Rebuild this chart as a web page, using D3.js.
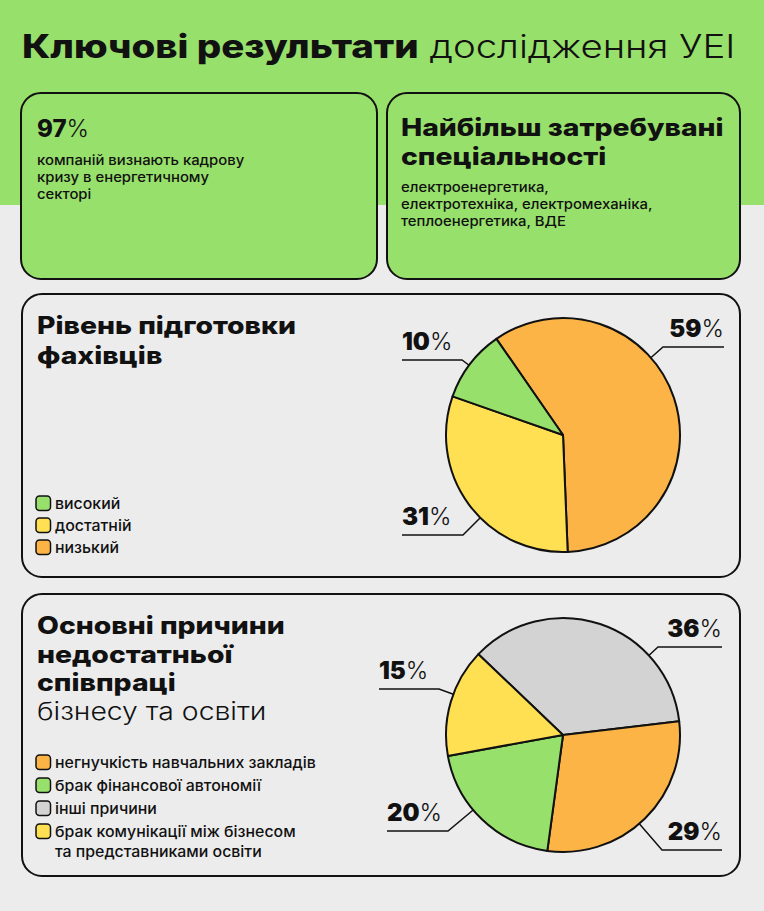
<!DOCTYPE html>
<html>
<head>
<meta charset="utf-8">
<script src="https://cdn.jsdelivr.net/npm/d3@7"></script>
<style>
  html, body { margin: 0; padding: 0; background: #ececec; }
  svg { display: block; font-family: Inter, "Noto Sans", sans-serif; }
</style>
</head>
<body>
<div id="chart"></div>
<script>
// --- data ---
var title = ["Ключові результати", " дослідження УЕІ"];
var crisisValue = "97";
var crisisText = ["компаній визнають кадрову", "кризу в енергетичному", "секторі"];
var specTitle = ["Найбільш затребувані", "спеціальності"];
var specText = ["електроенергетика,", "електротехніка, електромеханіка,", "теплоенергетика, ВДЕ"];

var levelTitle = ["Рівень підготовки", "фахівців"];
var levelNames = ["високий", "достатній", "низький"];
var levelValues = [10, 31, 59];

var reasonTitle = ["Основні причини", "недостатньої", "співпраці"];
var reasonSub = "бізнесу та освіти";
var reasonNames = ["негнучкість навчальних закладів", "брак фінансової автономії", "інші причини",
  "брак комунікації між бізнесом|та представниками освіти"];
var reasonValues = [29, 20, 36, 15];

var colors = {
  "високий": "#98e06c", "достатній": "#ffe052", "низький": "#fdb447",
  "негнучкість навчальних закладів": "#fdb447", "брак фінансової автономії": "#98e06c",
  "інші причини": "#d3d3d3", "брак комунікації між бізнесом|та представниками освіти": "#ffe052"
};

var width = 764, height = 911;
var svg = d3.select('#chart').append('svg')
    .attr('width', width)
    .attr('height', height);

svg.append('rect').attr('width', width).attr('height', height).attr('fill', '#ececec');
svg.append('rect').attr('width', width).attr('height', 205).attr('fill', '#98e06c');

// wide grotesque look: Inter stretched horizontally
function wideText(x, y, size, sx) {
  return svg.append('text')
      .attr('transform', 'translate(' + x + ',' + y + ') scale(' + sx + ',1)')
      .style('font-size', size + 'px').attr('fill', '#111');
}

// title
var t = wideText(22, 57.5, 32, 1.2);
t.append('tspan').style('font-weight', 800).text(title[0]);
t.append('tspan').style('font-weight', 300).text(title[1]);

function card(x, y, w, h, fill) {
  svg.append('rect')
      .attr('x', x).attr('y', y).attr('width', w).attr('height', h)
      .attr('rx', 20).attr('ry', 20)
      .attr('fill', fill).attr('stroke', '#111').attr('stroke-width', 2);
}

card(21, 93, 356, 186, '#98e06c');
card(387, 93, 353, 186, '#98e06c');
card(22, 294, 718, 283, '#ececec');
card(22, 594, 718, 282, '#ececec');

// card 1
var p = svg.append('text').attr('x', 37).attr('y', 137).style('font-size', '24px').attr('fill', '#111');
p.append('tspan').style('font-weight', 800).text(crisisValue);
p.append('tspan').style('font-weight', 300).text('%');
crisisText.forEach(function (s, i) {
  wideText(37, 165 + i * 17, 13.5, 1.1).style('font-weight', 500).text(s);
});

// card 2
specTitle.forEach(function (s, i) {
  wideText(401, 135.5 + i * 29.5, 24, 1.18).style('font-weight', 800).text(s);
});
specText.forEach(function (s, i) {
  wideText(401, 192 + i * 17, 13.5, 1.1).style('font-weight', 500).text(s);
});

// card 3 / 4 titles
levelTitle.forEach(function (s, i) {
  wideText(37, 334 + i * 30, 24, 1.18).style('font-weight', 800).text(s);
});
reasonTitle.forEach(function (s, i) {
  wideText(37, 634 + i * 28.5, 24, 1.18).style('font-weight', 800).text(s);
});
wideText(37, 720, 24, 1.18).style('font-weight', 300).text(reasonSub);

// legends
function legend(names, base, step) {
  var row = 0;
  names.forEach(function (n) {
    var lines = n.split('|');
    svg.append('rect')
        .attr('x', 36).attr('y', base + row * step - 13).attr('width', 14.5).attr('height', 14.5)
        .attr('rx', 3.5).attr('fill', colors[n]).attr('stroke', '#111').attr('stroke-width', 1.5);
    lines.forEach(function (l, j) {
      wideText(55, base + row * step + j * 19.5, 15, 1.06).style('font-weight', 500).text(l);
    });
    row += 1;
  });
}
legend(levelNames, 509, 22);
legend(reasonNames, 768, 23);

// pies
var arc = d3.arc().innerRadius(0);

function pie(names, values, cx, cy, r, start, labels) {
  var g = svg.append('g').attr('transform', 'translate(' + cx + ',' + cy + ')');
  var layout = d3.pie().sort(null).value(function (d) { return d.v; })
      .startAngle(start * Math.PI / 180).endAngle(start * Math.PI / 180 + 2 * Math.PI);
  var data = names.map(function (n, i) { return {n: n, v: values[i]}; });
  var arcs = layout(data);
  arc.outerRadius(r);
  g.selectAll('path').data(arcs).enter().append('path')
      .attr('d', arc)
      .attr('fill', function (d) { return colors[d.data.n]; })
      .attr('stroke', '#111').attr('stroke-width', 2).attr('stroke-linejoin', 'round');

  labels.forEach(function (lb, i) {
    var d = data[i];
    var ex = lb.side === 'right' ? lb.x0 : lb.x1;
    var dx = ex - cx, dy = lb.ly - cy, len = Math.sqrt(dx * dx + dy * dy);
    var ax = cx + dx / len * r, ay = cy + dy / len * r;
    svg.append('path')
        .attr('d', 'M' + ax + ',' + ay + 'L' + ex + ',' + lb.ly + 'L' + (lb.side === 'right' ? lb.x1 : lb.x0) + ',' + lb.ly)
        .attr('fill', 'none').attr('stroke', '#111').attr('stroke-width', 1.5);
    var tx = svg.append('text')
        .attr('x', lb.side === 'right' ? lb.x1 : lb.x0)
        .attr('y', lb.ly - 10)
        .attr('text-anchor', lb.side === 'right' ? 'end' : 'start')
        .style('font-size', '24px').attr('fill', '#111');
    tx.append('tspan').style('font-weight', 900).text(d.v);
    tx.append('tspan').style('font-weight', 300).text('%');
  });
}

// label placement (layout only), in data order
pie([levelNames[2], levelNames[1], levelNames[0]], [levelValues[2], levelValues[1], levelValues[0]],
    563, 435, 117, -34.7, [
  {side: 'right', x0: 663, x1: 724, ly: 347},
  {side: 'left', x0: 402, x1: 463, ly: 535},
  {side: 'left', x0: 402, x1: 462, ly: 360}
]);

pie([reasonNames[2], reasonNames[0], reasonNames[1], reasonNames[3]],
    [reasonValues[2], reasonValues[0], reasonValues[1], reasonValues[3]],
    563, 735, 117, -46.3, [
  {side: 'right', x0: 658, x1: 722, ly: 647},
  {side: 'right', x0: 662, x1: 722, ly: 850},
  {side: 'left', x0: 387, x1: 448, ly: 831},
  {side: 'left', x0: 379, x1: 439, ly: 689}
]);
</script>
</body>
</html>
